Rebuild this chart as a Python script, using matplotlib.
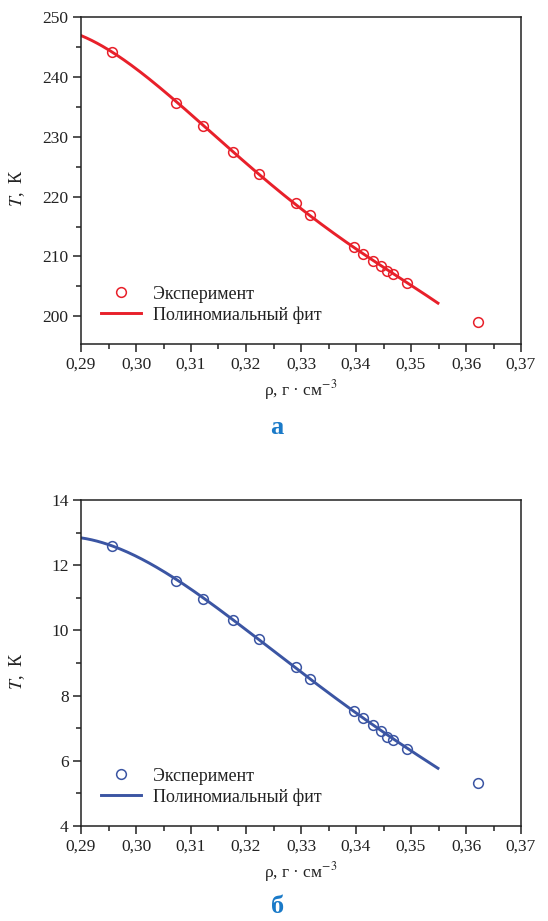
import matplotlib
matplotlib.use("Agg")
import matplotlib.pyplot as plt
import numpy as np
from matplotlib.ticker import MultipleLocator, FuncFormatter

# ---- data ----
rho_exp = [0.2956, 0.3073, 0.3122, 0.3176, 0.3224, 0.3290, 0.3316,
           0.3396, 0.3413, 0.3431, 0.3445, 0.3457, 0.3467, 0.3493, 0.3622]
T_exp_a = [244.1, 235.6, 231.8, 227.5, 223.8, 218.9, 216.9,
           211.6, 210.4, 209.3, 208.4, 207.5, 207.1, 205.6, 199.1]
T_exp_b = [12.58, 11.51, 10.96, 10.31, 9.74, 8.87, 8.52,
           7.54, 7.31, 7.09, 6.91, 6.74, 6.65, 6.36, 5.31]

# points
rho_fit = [0.2900, 0.2925, 0.2956, 0.3000, 0.3035, 0.3073, 0.3122, 0.3176,
           0.3224, 0.3290, 0.3316, 0.3396, 0.3445, 0.3493, 0.3549]
T_fit_a = [246.8, 245.8, 244.1, 241.5, 238.9, 235.7, 231.8, 227.4,
           223.7, 218.8, 216.9, 211.6, 208.4, 205.5, 202.3]
T_fit_b = [12.83, 12.75, 12.59, 12.32, 12.01, 11.51, 10.96, 10.31,
           9.74, 8.87, 8.52, 7.54, 6.91, 6.36, 5.79]

x_ticks = [0.29, 0.30, 0.31, 0.32, 0.33, 0.34, 0.35, 0.36, 0.37]
legend_labels = ["Эксперимент", "Полиномиальный фит"]
panel_labels = ["а", "б"]

plt.rcParams['font.family'] = ['Liberation Serif', 'DejaVu Serif']
plt.rcParams['mathtext.fontset'] = 'stix'

W, H = 548, 921
fig = plt.figure(figsize=(W / 100, H / 100), dpi=100)

def fr(px_left, px_top, px_right, px_bottom):
    return [px_left / W, 1 - px_bottom / H, (px_right - px_left) / W, (px_bottom - px_top) / H]

ax_a = fig.add_axes(fr(81, 16.7, 521, 344))
ax_b = fig.add_axes(fr(81, 500, 521, 826))

red = '#e8202a'
blue = '#3b55a3'
label_blue = '#1a7ac8'
ink = '#222222'

comma = FuncFormatter(lambda v, p: f"{v:.2f}".replace('.', ','))

def style(ax, ylim, ymaj, ymin):
    ax.set_xlim(0.29, 0.37)
    ax.set_ylim(*ylim)
    ax.set_xticks(x_ticks)
    ax.xaxis.set_major_formatter(comma)
    ax.xaxis.set_minor_locator(MultipleLocator(0.005))
    ax.yaxis.set_major_locator(MultipleLocator(ymaj))
    ax.yaxis.set_minor_locator(MultipleLocator(ymin))
    ax.tick_params(which='major', direction='out', length=6, width=1.1,
                   labelsize=12.5, colors=ink, pad=3)
    ax.tick_params(which='minor', direction='out', length=3.5, width=1.1, colors=ink)
    ax.tick_params(top=False, right=False, which='both')
    for s in ax.spines.values():
        s.set_linewidth(1.1)
        s.set_color(ink)
    ax.set_xlabel("ρ, г · см$^{-3}$", fontsize=12.5, color=ink, labelpad=4)
    ax.set_ylabel("$T$,  К", fontsize=13, color=ink)
    ax.yaxis.set_label_coords(-0.122, 0.475)

for ax, T_exp, T_fit, col, ylim, ymaj, ymin in [
        (ax_a, T_exp_a, T_fit_a, red, (195.4, 250), 10, 5),
        (ax_b, T_exp_b, T_fit_b, blue, (4, 14), 2, 1)]:
    ax.plot(rho_exp, T_exp, linestyle='none', marker='o', markersize=7,
            markerfacecolor='none', markeredgecolor=col, markeredgewidth=1.1,
            label=legend_labels[0])
    # smooth polynomial through the points
    coef = np.polyfit(rho_fit, T_fit, 4)
    xs = np.linspace(rho_fit[0], rho_fit[-1], 200)
    ax.plot(xs, np.polyval(coef, xs), color=col, linewidth=2.1, label=legend_labels[1])
    style(ax, ylim, ymaj, ymin)
    leg = ax.legend(loc='lower left', bbox_to_anchor=(0.03, 0.04), frameon=False,
                    fontsize=13, handlelength=2.2, handletextpad=0.65,
                    labelspacing=0.2, borderaxespad=0)
    for t in leg.get_texts():
        t.set_color(ink)

fig.text(277 / W, 1 - 427 / H, panel_labels[0], color=label_blue, fontsize=19,
         fontweight='bold', ha='center', va='center')
fig.text(278 / W, 1 - 906 / H, panel_labels[1], color=label_blue, fontsize=19,
         fontweight='bold', ha='center', va='center')

fig.savefig('out.png', dpi=100)
